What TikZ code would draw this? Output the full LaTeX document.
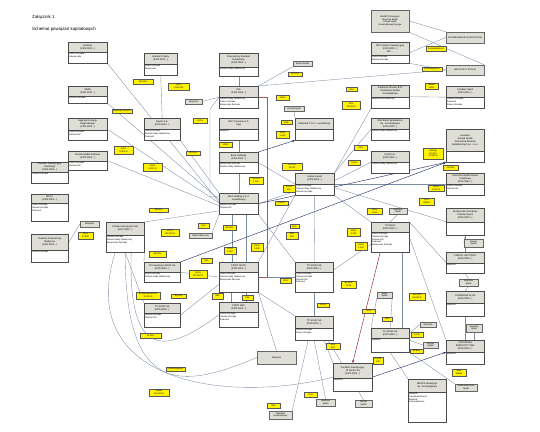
\documentclass[tikz,border=0pt]{standalone}
\usepackage{fontspec}
\setmainfont{Liberation Sans}
\usepackage{tikz}
\usetikzlibrary{arrows.meta, positioning}
\definecolor{hdrgray}{RGB}{222,222,214}
\definecolor{linec}{RGB}{125,140,165}
\definecolor{arrc}{RGB}{45,55,105}
\definecolor{brc}{RGB}{165,90,90}
\definecolor{redc}{RGB}{150,30,45}
\pgfdeclarelayer{edges}
\pgfsetlayers{edges,main}
\tikzset{
  ent/.style={rectangle, draw=black!70, fill=white, line width=0.35pt, inner sep=0pt},
  hdr/.style={rectangle, draw=black!70, fill=hdrgray, line width=0.35pt, inner sep=0.5pt,
              align=center, font=\fontsize{2.4}{2.9}\selectfont},
  txt/.style={inner sep=0.6pt, align=left, font=\fontsize{2.2}{2.7}\selectfont},
  gbox/.style 2 args={rectangle, draw=black!60, fill=hdrgray, line width=0.3pt, inner sep=0.3pt,
              minimum width=#1pt, minimum height=#2pt, align=center,
              font=\fontsize{2.2}{2.7}\selectfont},
  lab/.style 2 args={rectangle, draw=black!65, fill=yellow, line width=0.3pt, inner sep=0.2pt,
              minimum width=#1pt, minimum height=#2pt, align=center,
              font=\fontsize{2.2}{2.6}\selectfont},
  ln/.style={draw=linec, line width=0.35pt},
  arr/.style={draw=arrc, line width=0.45pt, -{Stealth[length=3pt,width=2.4pt]}},
  rarr/.style={draw=redc, line width=0.45pt, -{Stealth[length=3pt,width=2.4pt]}},
  brn/.style={draw=brc, line width=0.45pt}
}
% entity: name, x, y (top left), width, height, header height, header, body
\newcommand{\firma}[8]{%
  \node[ent, minimum width=#4pt, minimum height=#5pt, anchor=north west] (#1) at (#2,#3) {};
  \node[hdr, minimum width=#4pt, minimum height=#6pt, anchor=north] (#1h) at (#1.north) {#7};
  \node[txt, anchor=north west] (#1t) at (#1h.south west) {#8};
}

\begin{document}
\begin{tikzpicture}[x=1pt, y=-1pt]
  \useasboundingbox (0,0) rectangle (540,431);

  \node[anchor=west, inner sep=0pt, font=\fontsize{4.4}{5}\selectfont] (title) at (32,17) {Załącznik 1};
  \node[anchor=west, inner sep=0pt, font=\fontsize{4.4}{5}\selectfont] (subtitle) at (32,29) {Schemat powiązań kapitałowych};

  % entities
  \firma{hasil}{68}{42}{39}{21}{10}{Hasilow\\(KRS 0000...)}{Prezes Zarządu -\\członek rady}
  \firma{harb}{144}{53}{33}{22}{11}{Harbour Polska\\(KRS 0000...)}{Prezes Zarządu\\Wiceprezes}
  \firma{pzu}{219}{53}{39}{23}{14}{Powszechny Fundusz\\Emerytalny\\(KRS 0000...)}{Członek Rady Nadzorczej}
  \firma{ink}{219}{86}{39}{22}{11}{INK\\(KRS 0000...)}{Członek Rady Nadzorczej\\Prezes Zarządu\\Wiceprezes Zarządu}
  \firma{mmw}{68}{86}{39}{17}{10}{MMW\\(KRS 0000...)}{Członek Zarządu}
  \firma{mp}{371}{42}{38}{21}{13}{MP Fundusz Inwestycyjny\\(KRS 0000...)\\NIP ...}{Prezes Zarządu\\Członek Zarządu}
  \firma{fundA}{371}{85}{38}{23}{12}{Fundusze Pioneer BTF\\Partnerska Spółka\\Komandytowa}{Wspólnik komandytowy}
  \firma{fundB}{446}{86}{38}{22}{11}{Fundusz Seed\\(KRS 0000...)}{Członek Zarządu\\Prokurent\\Prezes Zarządu}
  \firma{agen}{68}{118}{39}{22}{12}{Agencja Rozwoju\\Regionalnego\\(KRS 0000...)}{Prezes Zarządu\\Członek RN}
  \firma{apollo}{144}{118}{36}{22}{11}{Apollo S.A.\\(KRS 0000...)}{Prezes Zarządu\\Członek Rady Nadzorczej\\Prokurent}
  \firma{ekt}{219}{118}{39}{22}{11}{EKT Company S.A.\\Cypr}{Wspólnik}
  \firma{ziel}{295}{118}{38}{22}{11}{Zielboard S.à r.l. Luxembourg}{}
  \firma{anv}{371}{118}{38}{22}{11}{ANV Bank Spółdzielczy\\Sp. Komandytowa\\(KRS 0000...)}{Członek Rady Nadzorczej}
  \firma{lew}{446}{129}{38}{33}{22}{Lewiatan\\Zarząd Spółki\\Zrzeszenie Banków\\Spółdzielczych sp. z o.o.}{}
  \firma{besa}{219}{152}{39}{21}{10}{Besa Holdings\\(KRS 0000...)}{Wiceprezes Zarządu\\Członek Rady Nadzorczej}
  \firma{pirelli}{371}{151}{38}{22}{11}{Pirelli S.A.\\(KRS 0000...)}{Członek Rady Nadzorczej}
  \firma{polm}{68}{151}{39}{19}{10}{Polskie Media Software\\(KRS 0000...)}{Prezes Zarządu\\Członek RN}
  \firma{lef}{31}{162}{37}{21}{10}{Fundusz Inwestycyjny\\Zamknięty\\(KRS 0000...)}{Członek Zarządu}
  \firma{kul}{295}{173}{39}{22}{11}{Kulinar Invest\\(KRS 0000...)}{Prezes Zarządu\\Członek Rady Nadzorczej\\Członek Zarządu}
  \firma{kasa}{446}{173}{38}{22}{11}{Kasa Oszczędnościowa\\Kredytowa\\(KRS 0000...)}{Prezes Zarządu\\Członek RN}
  \firma{mest}{219}{193}{39}{21}{10}{Mest Holding S.à r.l.\\Luxembourg}{Członek Zarządu\\Członek RN}
  \firma{mlkp}{31}{194}{37}{27}{9}{MLKP\\(KRS 0000...)}{Prezes Zarządu\\Członek Zarządu\\Prokurent}
  \firma{tfp}{446}{208}{38}{27}{14}{Towarzystwo Funduszy\\Powszechnych\\(KRS 0000...)}{}
  \firma{t3}{371}{222}{38}{30}{10}{T3 SICAV\\(KRS 0000...)}{Prezes Zarządu\\Członek Zarządu\\Członek RN\\Prokurent\\Wiceprezes Zarządu}
  \firma{pfund}{106}{222}{38}{30}{13}{Polskie Inwestycje Fund\\(KRS 0000...)}{Członek Zarządu\\Członek Rady Nadzorczej\\Wiceprezes Zarządu}
  \firma{fpm}{31}{234}{37}{28}{16}{Fundusz Powszechny\\Medyczny\\(KRS 0000...)}{Członek Zarządu}
  \firma{pfa}{446}{252}{38}{21}{11}{PORTAL AKTYWNY\\(KRS 0000...)}{Wspólnik}
  \firma{tk1}{144}{262}{36}{20}{10}{TK Inwestycje SICAV SA\\(KRS 0000...)}{Prezes Zarządu\\Członek Rady Nadzorczej}
  \firma{foxit}{219}{262}{39}{30}{10}{FOXIT SICAV\\(KRS 0000...)}{Prezes Zarządu\\Członek Rady Nadzorczej\\Wiceprezes Zarządu}
  \firma{tpsa}{295}{262}{38}{30}{10}{TP SICAV SA\\(KRS 0000...)}{Prezes Zarządu\\Członek Zarządu\\Członek RN\\Prokurent}
  \firma{pfb}{446}{291}{38}{25}{12}{STRATEGIA PLUS\\(KRS 0000...)}{Wspólnik}
  \firma{tk2}{144}{303}{36}{24}{10}{TK SICAV SA\\(KRS 0000...)}{Członek Zarządu\\Członek RN}
  \firma{foxB}{219}{302}{39}{25}{10}{FOXIT ABC\\(KRS 0000...)}{Prezes Zarządu\\Członek Zarządu\\Prokurent}
  \firma{tpB}{295}{316}{38}{24}{12}{TP SICAV SA\\(KRS 0000...)}{Członek Zarządu\\Prezes Zarządu}
  \firma{tc}{371}{328}{38}{24}{10}{TC SICAV SA\\(KRS 0000...)}{Wspólnik}
  \firma{st}{446}{340}{38}{24}{12}{STRATEGIA\\INWESTYCYJNA\\(KRS 0000...)}{Wspólnik}
  \firma{rodz}{333}{363}{39}{28}{15}{Fundusz Inwestycyjny\\T3 SICAV SA\\(KRS 0000...)}{Wspólnik}
  \firma{bros}{408}{379}{38}{43}{13}{BROSS Inwestycje\\Sp. Komandytowa}{Wspólnik\\Komplementariusz\\Wspólnik\\Komandytariusz}

  % gray boxes
  \node[gbox={38}{22}] (amarco) at (390,21) {AMARCO Energetic\\Wspólnik Spółki\\Zarząd Spółki\\Komandytowej Energia};
  \node[gbox={38}{11}] (g1) at (465,37.5) {ZGROMADZENIE WSPÓLNIKÓW};
  \node[gbox={38}{10}] (g2) at (465,70) {WSPÓLNICY SPÓŁKI};
  \node[gbox={19}{5}] (g3) at (302.5,64) {Zarząd Spółki};
  \node[gbox={20}{5}] (g4) at (294,108.5) {Zarząd Spółki};
  \node[gbox={17}{4.5}] (g5) at (193.5,101.5) {Wspólnik};
  \node[gbox={19}{6}] (g6) at (89.5,224) {Wspólnik};
  \node[gbox={23}{5}] (g7) at (200.5,235.5) {Rada Nadzorcza};
  \node[gbox={18}{6}] (g8) at (398,211) {Wspólnik\\Spółki};
  \node[gbox={19}{8}] (g9) at (473.5,243) {Zarząd\\Spółki};
  \node[gbox={19}{7}] (g10) at (468.5,282.5) {Wspólnik\\Spółki};
  \node[gbox={15}{6}] (g11) at (384.5,295) {Rada\\Spółki};
  \node[gbox={39}{13}] (g12) at (276.5,357.5) {Wspólnik};
  \node[gbox={16}{5}] (g13) at (428,324.5) {Wspólnik};
  \node[gbox={15}{6}] (g14) at (430.5,345) {Zarząd\\Spółki};
  \node[gbox={16}{8}] (g15) at (474,328) {Wspólnik\\Spółki};
  \node[gbox={22}{7}] (g16) at (466,387.5) {Rada Nadzorcza\\Spółki};
  \node[gbox={19}{7}] (g17) at (325.5,402.5) {Wspólnik\\Spółki};
  \node[gbox={17}{7}] (g18) at (363.5,403.5) {Zarząd\\Spółki};
  \node[gbox={23}{8}] (g19) at (280.5,415) {Wspólnik\\Komandytowy};

  % yellow labels
  \node[lab={20}{5}] (l1) at (143,81.5) {100,00\%};
  \node[lab={20}{4.5}] (l2) at (122,111) {ZARZĄD SPÓŁKI};
  \node[lab={21}{7}] (l3) at (178.5,86.5) {100\%\\1 000 000};
  \node[lab={14}{4.5}] (l4) at (295,74) {51,00\%};
  \node[lab={13}{4.5}] (l5) at (282.5,97.5) {100\%};
  \node[lab={11}{4}] (l6) at (351.5,89.5) {49\%};
  \node[lab={18}{8}] (l7) at (351,105.5) {50\%\\10 000 zł};
  \node[lab={20}{5}] (l8) at (436,48.5) {Komandytariusz};
  \node[lab={20}{4.5}] (l9) at (432,69) {Komandytariusz};
  \node[lab={13}{6}] (l10) at (431.5,86.5) {Wkład\\100\%};
  \node[lab={19}{8}] (l11) at (123.5,150) {100\%\\5 000 zł};
  \node[lab={19}{8}] (l12) at (152.5,167.5) {100\%\\5 000 zł};
  \node[lab={19}{4.5}] (l13) at (158.5,210) {25,00\%};
  \node[lab={14}{5}] (l14) at (200,120.5) {100\%};
  \node[lab={11}{4}] (l15) at (286.5,122.5) {51\%};
  \node[lab={13}{7}] (l16) at (282.5,134.5) {100\%\\1 000};
  \node[lab={13}{5}] (l17) at (225.5,145) {100\%};
  \node[lab={14}{4.5}] (l18) at (193,153) {50,00\%};
  \node[lab={20}{7}] (l19) at (292,166.5) {50,00\%\\10 000};
  \node[lab={14}{7}] (l20) at (256,180.5) {75,00\%\\1 000};
  \node[lab={12}{7}] (l21) at (289,188.5) {100\%\\500};
  \node[lab={13}{4.5}] (l22) at (281.5,203) {5,00\%};
  \node[lab={12}{5}] (l23) at (354,162.5) {100\%};
  \node[lab={13}{5}] (l24) at (360.5,147.5) {33\%};
  \node[lab={20}{11}] (l25) at (433,153.5) {Udziały\\51,00\%\\10 000 zł};
  \node[lab={15}{5}] (l26) at (450.5,167.5) {25,00\%};
  \node[lab={16}{6}] (l27) at (436,188) {100\%\\2 000 zł};
  \node[lab={15}{7}] (l28) at (426.5,201.5) {50\%\\Wkład};
  \node[lab={15}{6}] (l29) at (374.5,211) {100\%\\1 000};
  \node[lab={15}{7}] (l30) at (85.5,235.5) {100\%\\50 000};
  \node[lab={18}{7}] (l31) at (170,232.5) {100\%\\100 000 zł};
  \node[lab={17}{6}] (l32) at (157.5,254) {49,00\%};
  \node[lab={24}{7}] (l33) at (148,295.5) {Komplementariusz\\10 000 zł};
  \node[lab={15}{4.5}] (l34) at (178.5,296) {50,00\%};
  \node[lab={11}{5}] (l35) at (203.5,225.5) {10\%};
  \node[lab={13}{5}] (l36) at (229.5,227.5) {85,00\%};
  \node[lab={9}{4}] (l37) at (294.5,226.5) {50\%};
  \node[lab={12}{7}] (l38) at (292,235.5) {50\%\\500};
  \node[lab={12}{7}] (l39) at (230,250.5) {100\%\\1 000};
  \node[lab={12}{8}] (l40) at (257,247.5) {100\%\\5 000};
  \node[lab={11}{5}] (l41) at (206.5,260.5) {49\%};
  \node[lab={18}{8}] (l42) at (198,274.5) {100\%\\100 000 zł};
  \node[lab={11}{5}] (l43) at (285.5,280.5) {50\%};
  \node[lab={15}{7}] (l44) at (348.5,284.5) {90,00\%\\1 000};
  \node[lab={13}{8}] (l45) at (353.5,232) {100\%\\5 000};
  \node[lab={11}{6}] (l46) at (217.5,296) {49\%};
  \node[lab={11}{5}] (l47) at (247.5,297.5) {51\%};
  \node[lab={12}{4.5}] (l48) at (323,305) {100\%};
  \node[lab={16}{7}] (l49) at (417,296.5) {100,00\%\\50 000 zł};
  \node[lab={13}{4.5}] (l50) at (368.5,311) {30\%};
  \node[lab={10}{4.5}] (l51) at (387,319) {70\%};
  \node[lab={21}{5}] (l52) at (150.5,335.5) {15,00\%};
  \node[lab={19}{4.5}] (l53) at (175.5,369) {Komandytariusz};
  \node[lab={20}{7}] (l54) at (159,392.5) {Wkład\\100 000 zł};
  \node[lab={14}{6}] (l55) at (333,346) {50\%\\500};
  \node[lab={13}{5}] (l56) at (310.5,394.5) {50\%};
  \node[lab={13}{5}] (l57) at (273.5,405.5) {99\%};
  \node[lab={12}{5}] (l58) at (417,334.5) {0,01\%};
  \node[lab={13}{4.5}] (l59) at (416.5,351) {99,99\%};
  \node[lab={10}{7}] (l60) at (378,360.5) {0,01\%\\100};
  \node[lab={14}{7}] (l61) at (459,372.5) {99\%\\Wkład};
  \node[lab={12}{8}] (l62) at (361,246.5) {100\%\\1 000};

  % connectors, behind the boxes
  \begin{pgfonlayer}{edges}
    \fill[white] (0,0) rectangle (540,431);
    \draw[ln] (hasil.south east) -- (mest.175);
    \draw[ln] (harb.south) -- (apollo.north);
    \draw[ln] (mmw.south east) -- (mest.168);
    \draw[ln] (agen.east) -- (mest.178);
    \draw[ln] (polm.east) -- (mest.186);
    \draw[ln] (apollo.south east) -- (mest.north west);
    \draw[ln] (pfund.north east) -- (mest.200);
    \draw[ln] (g7.north east) -- (mest.south west);
    \draw[ln] (pzu.south) -- (ink.north);
    \draw[ln] (ink.north east) -- (g2.west);
    \draw[ln] (ink.north east) -- (g3.south west);
    \draw[ln] (ink.west) -- ++(-9,12) |- (mest.160);
    \draw[ln] (g5.east) -- (ink.west);
    \draw[ln] (ekt.south) -- (besa.north);
    \draw[ln] (besa.south) -- (mest.north);
    \draw[ln] (besa.east) -- (kul.west);
    \draw[ln] (ziel.north west) -- (g4.south);
    \draw[ln] (mest.east) -- (kul.200);
    \draw[ln] (kul.north east) -- (fundA.south west);
    \draw[ln] (kul.north east) -- (anv.west);
    \draw[ln] (kul.10) -- (pirelli.west);
    \draw[ln] (kul.east) -- (kasa.west);
    \draw[ln] (kul.350) -- (tfp.west);
    \draw[ln] (kul.south) -- (tpsa.north);
    \draw[ln] (kul.south west) -- (foxit.north east);
    \draw[ln] (kul.south east) -- (t3.north west);
    \draw[ln] (mest.south east) -- (tpsa.north west);
    \draw[ln] ([xshift=-7pt]mest.south) -- ([xshift=-7pt]foxit.north);
    \draw[ln] ([xshift=7pt]mest.south) -- ([xshift=7pt]foxit.north);
    \draw[ln] (pfund.south east) -- (tk1.north west);
    \draw[ln] (pfund.south) -- (tk2.north west);
    \draw[ln] (foxit.west) -- (tk1.east);
    \draw[ln] (foxit.200) -- (tk2.east);
    \draw[ln] (foxit.east) -- (tpsa.west);
    \draw[ln] ([xshift=-8pt]foxit.south) -- ([xshift=-8pt]foxB.north);
    \draw[ln] ([xshift=7pt]foxit.south) -- ([xshift=7pt]foxB.north);
    \draw[ln] (foxit.south east) -- (tpB.north west);
    \draw[ln] (foxit.south east) -- (g12.north);
    \draw[ln] (tpsa.south) -- (tpB.north);
    \draw[ln] (tpsa.20) -- (t3.200);
    \draw[ln] ([xshift=-6pt]tpB.south) -- (g19.north east);
    \draw[ln] (tpB.south) -- (g17.north);
    \draw[ln] ([xshift=10pt]tpB.south) -- (rodz.north west);
    \draw[ln] ([xshift=14pt]tpB.south) -- (g18.north);
    \draw[ln] ([xshift=12pt]t3.south) -- ([xshift=12pt]tc.north);
    \draw[ln] (t3.north east) -- (pfa.west);
    \draw[ln] (t3.east) -- (st.north west);
    \draw[ln] (g8.south) -- (t3.north);
    \draw[ln] (tfp.south) -- (g9.west);
    \draw[ln] (tfp.south) -- (pfa.north);
    \draw[ln] (pfa.south) -- (g10.north);
    \draw[ln] (g10.south) -- (pfb.north);
    \draw[ln] (pfb.south) -- (st.north);
    \draw[ln] (g15.south) -- (st.north -| g15.south);
    \draw[ln] (tc.20) -- (g13.west);
    \draw[ln] (tc.east) -- (g14.west);
    \draw[ln] (tc.south) -- (bros.north west);
    \draw[ln] (tc.south east) -- (g16.north west);
    \draw[ln] (g11.south west) -- (tc.north west);
    \draw[ln] (g11.south east) -- (tc.north);
    \draw[ln] (mp.east) -- (g1.west);
    \draw[ln] (mp.south east) -- (g2.west);
    \draw[ln] (amarco.east) -- (g1.north west);
    \draw[ln] (amarco.south east) -- (g2.north east);
    \draw[ln] (fundA.east) -- (fundB.west);
    \draw[ln] (fpm.15) -- (g6.west);
    \draw[ln] ([xshift=-10pt]pfund.south) .. controls (75,380) and (220,405) .. (rodz.west);
    \draw[ln] (pfund.south) .. controls (125,395) and (180,390) .. (g12.west);
    \draw[ln] ([xshift=6pt]pfund.south) .. controls (128,360) and (165,355) .. (foxB.west);
    \draw[brn] (ink.east) -- ++(9,0) |- (foxit.east);
    \draw[arr] (besa.north east) -- (ziel.south west);
    \draw[arr] (mest.east) -- (lew.south west);
    \draw[arr] (tk1.north east) -- (lew.south west);
    \draw[arr] (rodz.east) -- (st.west);
    \draw[rarr] ([xshift=-10pt]t3.south) -- (rodz.north);
  \end{pgfonlayer}
\end{tikzpicture}
\end{document}
